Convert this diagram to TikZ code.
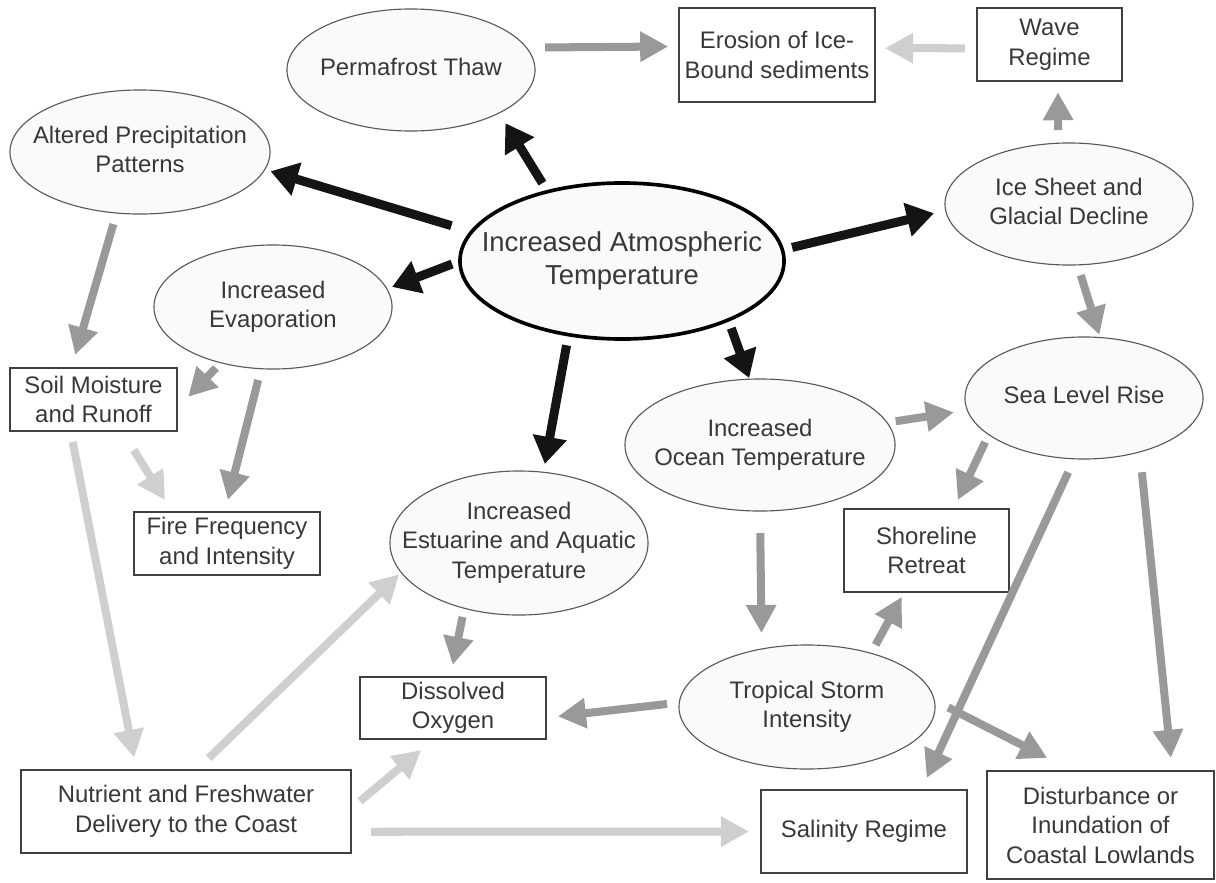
\documentclass[tikz,border=0pt]{standalone}
\usepackage{fontspec}
\setmainfont{Liberation Sans}
\usetikzlibrary{shapes.geometric,arrows.meta}
\newcommand{\etxt}[1]{\makebox[0pt]{\begin{tabular}{@{}c@{}}#1\end{tabular}}}

\begin{document}
\begin{tikzpicture}[x=0.025cm,y=-0.025cm,
  every node/.style={text=black!78,font=\fontsize{17}{21}\selectfont},
  effect/.style={ellipse,draw=black!65,fill=black!2,line width=0.8pt,inner sep=0pt,outer sep=0pt},
  result/.style={rectangle,draw=black!75,fill=white,line width=1.1pt,align=center,inner sep=0pt,outer sep=0pt},
  blk/.style={draw=black!92,line width=6.4pt,-{Triangle[length=0.68cm,width=0.82cm]}},
  mid/.style={draw=black!40,line width=5.7pt,-{Triangle[length=0.7cm,width=0.72cm]}},
  pale/.style={draw=black!19,line width=5.7pt,-{Triangle[length=0.7cm,width=0.72cm]}}]
\useasboundingbox (0,0) rectangle (1216,882);

\node[effect,minimum width=8.1cm,minimum height=3.9cm,line width=2.6pt,draw=black,font=\fontsize{19.5}{23.5}\selectfont] (atm) at (622,261) {\etxt{Increased Atmospheric\\Temperature}};
\node[effect,minimum width=6.2cm,minimum height=3.05cm] (perm) at (411,70) {\etxt{Permafrost Thaw}};
\node[effect,minimum width=6.5cm,minimum height=3.1cm] (precip) at (140,152) {\etxt{Altered Precipitation\\Patterns}};
\node[effect,minimum width=5.95cm,minimum height=3.1cm] (evap) at (273,307) {\etxt{Increased\\Evaporation}};
\node[effect,minimum width=6.2cm,minimum height=3.05cm] (ice) at (1069,204) {\etxt{Ice Sheet and\\Glacial Decline}};
\node[effect,minimum width=5.95cm,minimum height=3.05cm] (sea) at (1084,398) {\etxt{Sea Level Rise}};
\node[effect,minimum width=6.75cm,minimum height=3.3cm] (ocean) at (760,445) {\etxt{Increased\\Ocean Temperature}};
\node[effect,minimum width=6.45cm,minimum height=3.6cm] (estu) at (519,543) {\etxt{Increased\\Estuarine and Aquatic\\Temperature}};
\node[effect,minimum width=6.4cm,minimum height=3.1cm] (trop) at (807,707) {\etxt{Tropical Storm\\Intensity}};

\node[result,minimum width=4.9cm,minimum height=2.35cm] (erosion) at (777,55) {Erosion of Ice-\\Bound sediments};
\node[result,minimum width=3.625cm,minimum height=1.825cm] (wave) at (1049.5,44.5) {Wave\\Regime};
\node[result,minimum width=4.175cm,minimum height=1.575cm] (soil) at (93.5,399.5) {Soil Moisture\\and Runoff};
\node[result,minimum width=4.65cm,minimum height=1.575cm] (fire) at (227,543.5) {Fire Frequency\\and Intensity};
\node[result,minimum width=4.65cm,minimum height=1.55cm] (oxy) at (453,708) {Dissolved\\Oxygen};
\node[result,minimum width=8.25cm,minimum height=2.075cm] (nutr) at (186,811.5) {Nutrient and Freshwater\\Delivery to the Coast};
\node[result,minimum width=4.125cm,minimum height=2.075cm] (shore) at (926.5,550.5) {Shoreline\\Retreat};
\node[result,minimum width=5.15cm,minimum height=2.075cm] (sal) at (864,831.5) {Salinity Regime};
\node[result,minimum width=5.675cm,minimum height=2.7cm] (dist) at (1100.5,825) {Disturbance or\\Inundation of\\Coastal Lowlands};

\draw[blk,shorten <=0.25cm,shorten >=0.3cm] (atm.137) -- (perm.-26);
\draw[blk,shorten <=0.53cm,shorten >=0.15cm] (atm.169) -- (precip.-8);
\draw[blk,shorten <=0.21cm,shorten >=0.14cm] (atm.180) -- (evap.9);
\draw[blk,shorten <=0.27cm,shorten >=0.21cm] (atm.-126) -- (estu.71);
\draw[blk,shorten <=0.25cm,shorten >=0.3cm] (atm.4) -- (ice.183);
\draw[blk,shorten <=0.22cm,shorten >=0.03cm] (atm.-29) -- (ocean.99);

\draw[mid,shorten <=0.47cm,shorten >=0.27cm] (perm.11) -- (erosion.175);
\draw[mid,shorten <=0.33cm,shorten >=0.28cm] (ice.100) -- (wave.-77);
\draw[mid,shorten <=0.27cm,shorten >=0.07cm] (ice.-82) -- (sea.75);
\draw[mid,shorten <=0.22cm,shorten >=0.34cm] (ocean.10) -- (sea.186);
\draw[mid,shorten <=0.29cm,shorten >=0.34cm] (precip.-111) -- (soil.125);
\draw[mid,shorten <=0.18cm,shorten >=0.4cm] (evap.-133) -- (soil.-6);
\draw[mid,shorten <=0.29cm,shorten >=0.31cm] (evap.-101) -- (fire.94);
\draw[mid,shorten <=0.22cm,shorten >=0.31cm] (estu.-130) -- (oxy.95);
\draw[mid,shorten <=0.55cm,shorten >=0.4cm] (ocean.-90) -- (trop.128);
\draw[mid,shorten <=0.24cm,shorten >=0.14cm] (trop.40) -- (shore.-118);
\draw[mid,shorten <=0.31cm,shorten >=0.3cm] (trop.178) -- (oxy.-6);
\draw[mid,shorten <=0.21cm,shorten >=0.25cm] (sea.-159) -- (shore.57);
\draw[mid,shorten <=0.37cm,shorten >=0.33cm] (sea.-99) -- (sal.36);
\draw[mid,shorten <=0.51cm,shorten >=0.33cm] (sea.-44) -- (dist.37);
\draw[mid,shorten <=0.39cm,shorten >=0.72cm] (trop.3) -- (dist.117);

\draw[pale,shorten <=0.3cm,shorten >=0.25cm] (wave.183) -- (erosion.4);
\draw[pale,shorten <=0.56cm,shorten >=0.35cm] (soil.-48) -- (fire.150);
\draw[pale,shorten <=0.28cm,shorten >=0.31cm] (soil.-126) -- (nutr.140);
\draw[pale,shorten <=0.43cm,shorten >=0.07cm] (nutr.76) -- (estu.194);
\draw[pale,shorten <=0.29cm,shorten >=0.43cm] (nutr.1) -- (oxy.-121);
\draw[pale,shorten <=0.5cm,shorten >=0.3cm] (nutr.-7) -- (sal.180);
\end{tikzpicture}
\end{document}
